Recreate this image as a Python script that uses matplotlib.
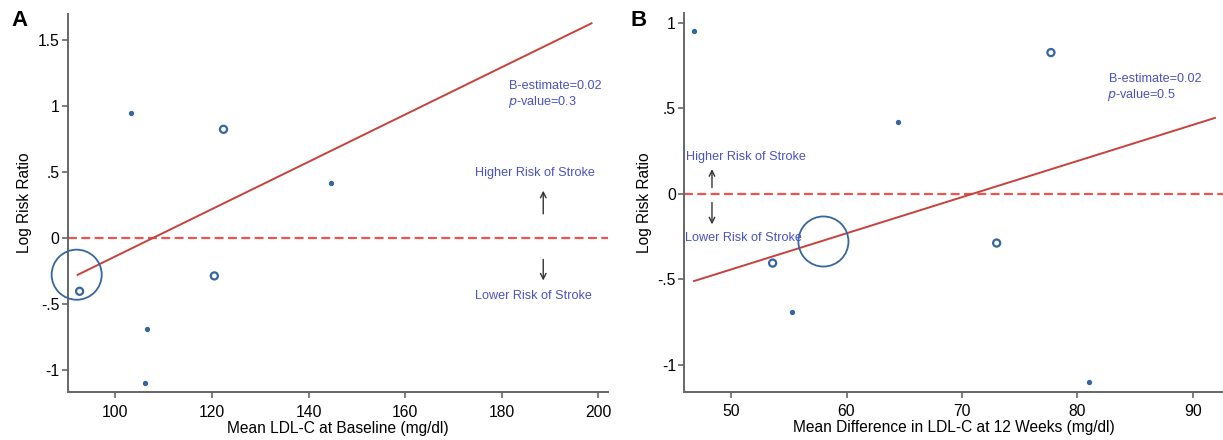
import matplotlib
matplotlib.use("Agg")
import matplotlib.pyplot as plt

plt.rcParams['font.family'] = ['Liberation Sans', 'DejaVu Sans']

# ---- data ----
# Panel A: baseline LDL-C vs log risk ratio
base_ldl = [103.3, 122.4, 144.6, 120.5, 92.6, 92.0, 106.5, 106.2]
# Panel B: mean LDL-C difference at 12 weeks
diff_ldl = [46.8, 77.7, 64.5, 73.0, 53.6, 58.0, 55.3, 81.0]
log_rr = [0.95, 0.825, 0.42, -0.288, -0.405, -0.279, -0.69, -1.10]
# marker weight class: 0 = small dot, 1 = small hollow, 2 = large hollow
weight_class = [0, 1, 0, 1, 1, 2, 0, 0]

fit_A_x = [92.2, 198.6]
fit_A_y = [-0.28, 1.63]
fit_B_x = [46.8, 91.9]
fit_B_y = [-0.51, 0.443]

xticks_A = [100, 120, 140, 160, 180, 200]
yticks_A = [-1, -0.5, 0, 0.5, 1, 1.5]
ytl_A = ['-1', '-.5', '0', '.5', '1', '1.5']
xticks_B = [50, 60, 70, 80, 90]
yticks_B = [-1, -0.5, 0, 0.5, 1]
ytl_B = ['-1', '-.5', '0', '.5', '1']

stats_A = ['B-estimate=0.02', '0.3']
stats_B = ['B-estimate=0.02', '0.5']

MK = '#3566a0'
TXT = '#4a52c4'
LINE = '#c8413a'
DASH = '#ec5450'
SPINE = '#666666'
FS_TICK = 11.3
FS_LAB = 11.2
FS_ANN = 9.1

fig = plt.figure(figsize=(12.23, 4.4), dpi=100)
axA = fig.add_axes([0.0556, 0.109, 0.4415, 0.859])
axB = fig.add_axes([0.5595, 0.11, 0.4405, 0.86])


def draw(ax, xs, line_x, line_y):
    for x, y, w in zip(xs, log_rr, weight_class):
        if w == 0:
            ax.scatter([x], [y], s=9, facecolor=MK, edgecolor=MK, linewidth=0.8, zorder=3)
        elif w == 1:
            ax.scatter([x], [y], s=26, facecolor='none', edgecolor=MK, linewidth=1.6, zorder=3)
        else:
            ax.scatter([x], [y], s=1300, facecolor='none', edgecolor=MK, linewidth=1.3,
                       zorder=3, clip_on=False)
    ax.plot(line_x, line_y, color=LINE, lw=1.4, zorder=2)
    ax.axhline(0, color=DASH, lw=1.6, ls=(0, (4, 2)), zorder=1)
    for s in ['top', 'right']:
        ax.spines[s].set_visible(False)
    for s in ['left', 'bottom']:
        ax.spines[s].set_color(SPINE)
        ax.spines[s].set_linewidth(1.4)
    ax.tick_params(direction='out', length=4, width=1.2, color=SPINE, labelsize=FS_TICK)
    ax.tick_params(axis='x', pad=5)
    ax.tick_params(axis='y', pad=2)
    ax.set_ylabel('Log Risk Ratio', fontsize=FS_LAB, labelpad=4)


# Panel A
draw(axA, base_ldl, fit_A_x, fit_A_y)
axA.set_xlim(90.2, 202)
axA.set_ylim(-1.17, 1.70)
axA.set_xticks(xticks_A)
axA.set_yticks(yticks_A)
axA.set_yticklabels(ytl_A)
axA.set_xlabel('Mean LDL-C at Baseline (mg/dl)', fontsize=FS_LAB, labelpad=1)
axA.text(181.6, 1.157, stats_A[0], color=TXT, fontsize=FS_ANN, va='center', ha='left')
axA.text(181.3, 1.035, r'$\mathit{p}$-value=' + stats_A[1], color=TXT, fontsize=FS_ANN, va='center', ha='left')
axA.text(186.8, 0.496, 'Higher Risk of Stroke', color=TXT, fontsize=FS_ANN, va='center', ha='center')
axA.text(186.5, -0.443, 'Lower Risk of Stroke', color=TXT, fontsize=FS_ANN, va='center', ha='center')
axA.annotate('', xy=(188.6, 0.38), xytext=(188.6, 0.162),
             arrowprops=dict(arrowstyle='->', color='#333333', lw=1.0))
axA.annotate('', xy=(188.6, -0.344), xytext=(188.6, -0.142),
             arrowprops=dict(arrowstyle='->', color='#333333', lw=1.0))

# Panel B
draw(axB, diff_ldl, fit_B_x, fit_B_y)
axB.set_xlim(45.95, 92.6)
axB.set_ylim(-1.156, 1.055)
axB.set_xticks(xticks_B)
axB.set_yticks(yticks_B)
axB.set_yticklabels(ytl_B)
axB.set_xlabel('Mean Difference in LDL-C at 12 Weeks (mg/dl)', fontsize=FS_LAB, labelpad=1)
axB.text(82.7, 0.672, stats_B[0], color=TXT, fontsize=FS_ANN, va='center', ha='left')
axB.text(82.55, 0.575, r'$\mathit{p}$-value=' + stats_B[1], color=TXT, fontsize=FS_ANN, va='center', ha='left')
axB.text(46.1, 0.212, 'Higher Risk of Stroke', color=TXT, fontsize=FS_ANN, va='center', ha='left')
axB.text(46.05, -0.257, 'Lower Risk of Stroke', color=TXT, fontsize=FS_ANN, va='center', ha='left', zorder=4)
axB.annotate('', xy=(48.35, 0.16), xytext=(48.35, 0.02),
             arrowprops=dict(arrowstyle='->', color='#333333', lw=1.0))
axB.annotate('', xy=(48.35, -0.195), xytext=(48.35, -0.035),
             arrowprops=dict(arrowstyle='->', color='#333333', lw=1.0))

fig.text(11 / 1223, 1 - 21 / 440, 'A', fontsize=16, fontweight='bold', va='center', ha='left')
fig.text(630 / 1223, 1 - 21 / 440, 'B', fontsize=16, fontweight='bold', va='center', ha='left')

fig.savefig('out.png', dpi=100)
